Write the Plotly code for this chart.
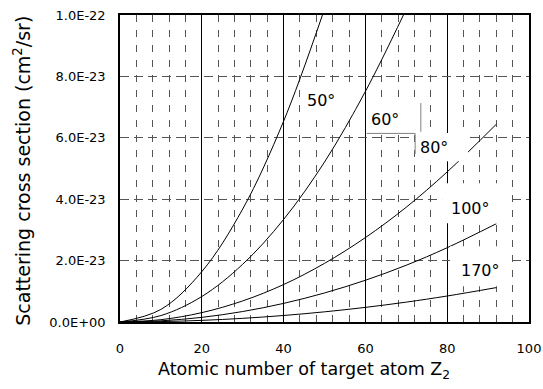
import plotly.graph_objects as go

# ---- data (in cm^2/sr) ----
z_50 = [0, 10, 20, 30, 40, 49.5]
s_50 = [0, 0.41e-23, 1.64e-23, 3.68e-23, 6.54e-23, 10.0e-23]

z_60 = [0, 10, 20, 30, 40, 50, 60, 69.3]
s_60 = [0, 0.21e-23, 0.83e-23, 1.88e-23, 3.34e-23, 5.21e-23, 7.51e-23, 10.0e-23]

z_80 = [0, 10, 20, 30, 40, 50, 60, 70, 80, 92]
s_80 = [0, 0.076e-23, 0.305e-23, 0.687e-23, 1.22e-23, 1.91e-23, 2.75e-23, 3.74e-23, 4.89e-23, 6.44e-23]

z_100 = [0, 10, 20, 30, 40, 50, 60, 70, 80, 92]
s_100 = [0, 0.038e-23, 0.151e-23, 0.341e-23, 0.606e-23, 0.946e-23, 1.36e-23, 1.85e-23, 2.42e-23, 3.20e-23]

z_170 = [0, 10, 20, 30, 40, 50, 60, 70, 80, 92]
s_170 = [0, 0.013e-23, 0.053e-23, 0.119e-23, 0.212e-23, 0.331e-23, 0.476e-23, 0.648e-23, 0.847e-23, 1.12e-23]

series = [("50°", z_50, s_50), ("60°", z_60, s_60), ("80°", z_80, s_80),
          ("100°", z_100, s_100), ("170°", z_170, s_170)]

y_tickvals = [0, 2e-23, 4e-23, 6e-23, 8e-23, 1e-22]
y_ticktext = ["0.0E+00", "2.0E-23", "4.0E-23", "6.0E-23", "8.0E-23", "1.0E-22"]
x_tickvals = [0, 20, 40, 60, 80, 100]

x_title = "Atomic number of target atom Z<sub>2</sub>"
y_title = "Scattering cross section (cm<sup>2</sup>/sr)"

# ---- figure ----
W, H = 543, 389
L, R, T, B = 119.5, 14, 15, 67.3
FONT = "DejaVu Sans"

fig = go.Figure()
for name, zs, ss in series:
    fig.add_trace(go.Scatter(x=zs, y=ss, mode="lines", name=name,
                             line=dict(color="black", width=1, shape="spline"),
                             showlegend=False, hoverinfo="skip"))

pw = W - L - R
ph = H - T - B
def px2x(px):
    return (px - L) / pw * 100
def py2y(py):
    return (H - B - py) / ph * 1e-22
def px2paper(px):
    return (px - L) / pw
def py2paper(py):
    return (H - B - py) / ph

boxes = [
    ("50°", (302, 352, 83, 115), (321, 100)),
    ("60°", (366, 415, 101, 133), (385, 119)),
    ("80°", (415, 468, 133, 161), (434, 147)),
    ("100°", (442, 511, 183, 223), (470, 208)),
    ("170°", (450, 512, 246, 286), (480, 270)),
]
shapes = []
annotations = []
for label, (x0, x1, y0, y1), (tx, ty) in boxes:
    shapes.append(dict(type="rect", xref="x", yref="y", layer="above",
                       x0=px2x(x0), x1=px2x(x1), y0=py2y(y1), y1=py2y(y0),
                       fillcolor="white", line=dict(width=0)))
    annotations.append(dict(x=px2x(tx), y=py2y(ty), xref="x", yref="y",
                            text=label, showarrow=False,
                            font=dict(family=FONT, size=16, color="black")))

for (x0, y0, x1, y1) in [(366.7, 133.3, 415, 133.3), (415, 133.3, 415, 154),
                         (420.7, 103, 420.7, 131.7)]:
    shapes.append(dict(type="line", xref="x", yref="y", layer="above",
                       x0=px2x(x0), x1=px2x(x1), y0=py2y(y0), y1=py2y(y1),
                       line=dict(color="#808080", width=1)))

# axis titles
annotations.append(dict(x=px2paper(303.5), y=py2paper(370), xref="paper", yref="paper",
                        text=x_title, showarrow=False, xanchor="center", yanchor="middle",
                        font=dict(family=FONT, size=17.5, color="black")))
annotations.append(dict(x=px2paper(22), y=py2paper(171), xref="paper", yref="paper",
                        text=y_title, showarrow=False, textangle=-90,
                        xanchor="center", yanchor="middle",
                        font=dict(family=FONT, size=19, color="black")))

fig.update_layout(
    width=W, height=H,
    margin=dict(l=L, r=R, t=T, b=B, pad=0, autoexpand=False),
    paper_bgcolor="white", plot_bgcolor="white",
    font=dict(family=FONT, size=12, color="black"),
    shapes=shapes, annotations=annotations,
)
fig.update_xaxes(
    range=[0, 100], tickvals=x_tickvals, ticks="", ticklabelstandoff=14,
    automargin=False,
    showline=True, linecolor="black", linewidth=1.5, mirror=True,
    showgrid=True, gridcolor="black", gridwidth=1,
    minor=dict(dtick=4, tick0=0, showgrid=True, gridcolor="#555555",
               gridwidth=1, griddash="7px,8px"),
    zeroline=False,
    tickfont=dict(family=FONT, size=13),
)
fig.update_yaxes(
    range=[0, 1e-22], tickvals=y_tickvals, ticktext=y_ticktext, ticks="",
    ticklabelstandoff=10, automargin=False,
    showline=True, linecolor="black", linewidth=1.5, mirror=True,
    showgrid=True, gridcolor="#555555", gridwidth=1, griddash="9px,5px",
    zeroline=False,
    tickfont=dict(family=FONT, size=13),
)

fig.write_html("out.html")
